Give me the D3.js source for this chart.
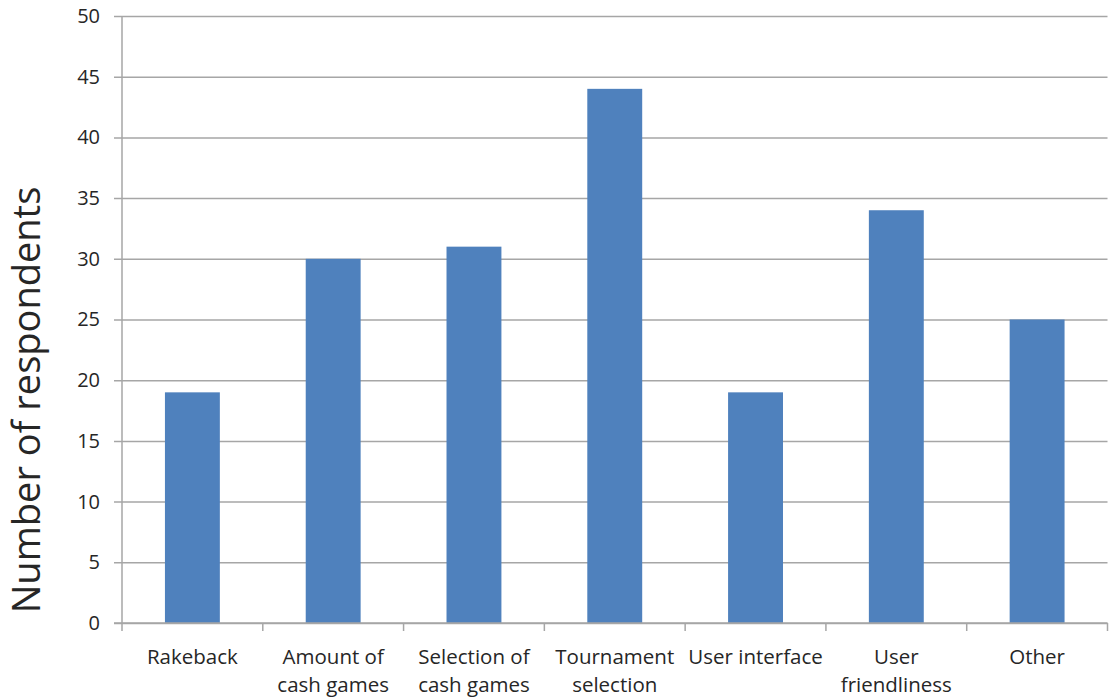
<!DOCTYPE html>
<html>
<head>
<meta charset="utf-8">
<script src="https://cdn.jsdelivr.net/npm/d3@7"></script>
<style>
  html, body { margin: 0; padding: 0; background: #fff; }
  svg { display: block; }
  text { font-family: "Open Sans", "Noto Sans", sans-serif; fill: #262626; }
</style>
</head>
<body>
<svg id="chart" width="1109" height="698"></svg>
<script>
// Reasons for choosing a poker site
const categories = [
  ["Rakeback"],
  ["Amount of", "cash games"],
  ["Selection of", "cash games"],
  ["Tournament", "selection"],
  ["User interface"],
  ["User", "friendliness"],
  ["Other"]
];
const respondents = [19, 30, 31, 44, 19, 34, 25];
const yTicks = [0, 5, 10, 15, 20, 25, 30, 35, 40, 45, 50];
const yTitle = "Number of respondents";

const svg = d3.select("#chart");
const plotLeft = 122, plotRight = 1107.5, plotTop = 16, plotBottom = 623;

const keys = categories.map((c, i) => i);
const x = d3.scaleBand().domain(keys).range([plotLeft, plotRight]).paddingInner(0.61).paddingOuter(0.305);
const xTicks = d3.scaleBand().domain(keys).range([plotLeft, plotRight]);
const y = d3.scaleLinear().domain([0, 50]).range([plotBottom, plotTop]);

// horizontal gridlines with left tick stubs
const yAxis = d3.axisLeft(y).tickValues(yTicks).tickSize(-(plotRight - plotLeft)).tickPadding(22).tickFormat(d3.format("d"));
const gy = svg.append("g").attr("transform", `translate(${plotLeft},0)`).call(yAxis);
gy.select(".domain").remove();
gy.selectAll(".tick line").attr("stroke", "#a6a6a6").attr("stroke-width", 1.5).attr("x1", -8);
gy.selectAll(".tick text").style("font-size", "20px").attr("fill", "#262626");

// bars
svg.append("g").selectAll("rect").data(respondents).join("rect")
  .attr("x", (d, i) => x(i))
  .attr("width", x.bandwidth())
  .attr("y", d => y(d))
  .attr("height", d => y(0) - y(d))
  .attr("fill", "#4F81BD");

// vertical axis line
svg.append("line").attr("x1", plotLeft).attr("x2", plotLeft).attr("y1", plotTop).attr("y2", plotBottom)
  .attr("stroke", "#a6a6a6").attr("stroke-width", 1.5);

// category axis with boundary ticks
const gx = svg.append("g");
gx.append("line").attr("x1", plotLeft - 8).attr("x2", plotRight).attr("y1", plotBottom).attr("y2", plotBottom)
  .attr("stroke", "#a6a6a6").attr("stroke-width", 1.5);
const bounds = keys.map(k => xTicks(k)).concat([plotRight]);
gx.selectAll("line.tk").data(bounds).join("line").attr("class", "tk")
  .attr("x1", d => d).attr("x2", d => d).attr("y1", plotBottom).attr("y2", plotBottom + 8)
  .attr("stroke", "#a6a6a6").attr("stroke-width", 1.5);

const labels = gx.selectAll("text.cat").data(categories).join("text").attr("class", "cat")
  .attr("text-anchor", "middle")
  .attr("x", (d, i) => xTicks(i) + xTicks.bandwidth() / 2)
  .attr("y", 664)
  .style("font-size", "20.5px");
labels.selectAll("tspan").data(d => d).join("tspan")
  .attr("x", function() { return d3.select(this.parentNode).attr("x"); })
  .attr("dy", (d, i) => i === 0 ? 0 : 28)
  .text(d => d);

// y axis title
svg.append("text")
  .attr("transform", "translate(40,400) rotate(-90)")
  .attr("text-anchor", "middle")
  .style("font-size", "38px")
  .text(yTitle);
</script>
</body>
</html>
